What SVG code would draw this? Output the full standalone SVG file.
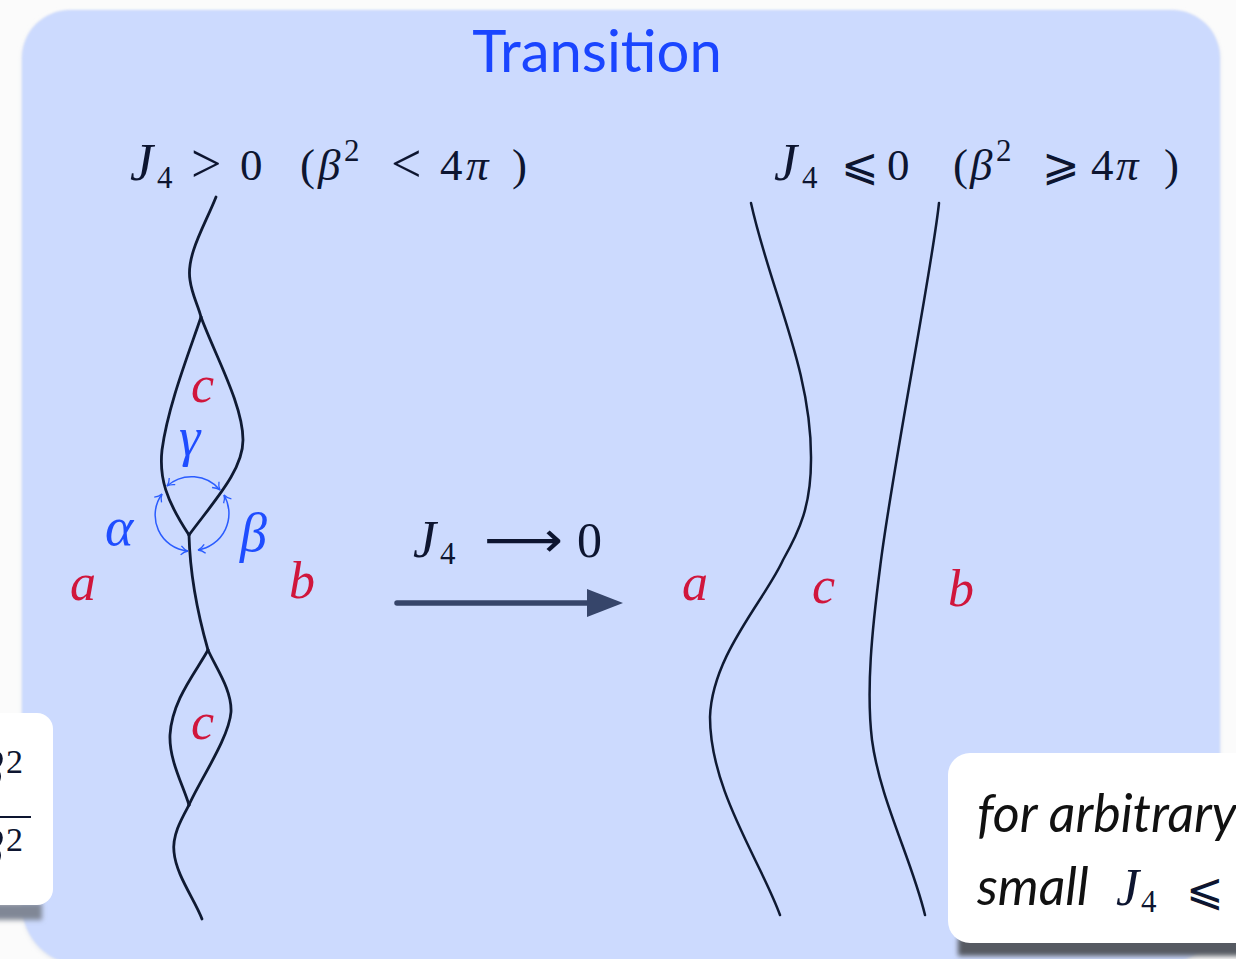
<svg xmlns="http://www.w3.org/2000/svg" width="1236" height="959" viewBox="0 0 1236 959">
<style>
.m{font-family:"Liberation Serif","DejaVu Serif",serif;fill:#0d1530;font-size:45px}
.i{font-style:italic}
.J{font-style:italic;font-size:52px}
.op{font-size:54px}
.sub{font-size:31px}
.sym{font-family:"DejaVu Sans","Liberation Serif",sans-serif}
.red{fill:#d0163c;font-size:52px;font-style:italic;font-family:"Liberation Serif","DejaVu Serif",serif}
.blu{fill:#1f4dff;font-size:54px;font-style:italic;font-family:"Liberation Serif","DejaVu Serif",serif}
.strand{fill:none;stroke:#0f1a33;stroke-width:2.8;stroke-linecap:round;stroke-linejoin:round}
.strand2{fill:none;stroke:#0f1a33;stroke-width:2.5;stroke-linecap:round}
.ang{fill:none;stroke:#2a5cff;stroke-width:1.5}
.note{font-family:"Lato","Open Sans",sans-serif;font-style:italic;font-size:52px;fill:#111}
</style>
<defs>
<filter id="soft" x="-5%" y="-5%" width="110%" height="110%"><feGaussianBlur stdDeviation="1.2"/></filter>
<filter id="sh" x="-20%" y="-100%" width="140%" height="300%"><feGaussianBlur stdDeviation="2.5"/></filter>
<marker id="ah" markerWidth="12" markerHeight="12" refX="9" refY="6" orient="auto-start-reverse" markerUnits="userSpaceOnUse">
<path d="M2,1.5 Q5,5 9,6 Q5,7 2,10.5" fill="none" stroke="#2a5cff" stroke-width="1.3"/>
</marker>
</defs>
<rect x="0" y="0" width="1236" height="959" fill="#fbfbfb"/>
<g id="panel">
<path d="M70,10 H1172 A48,48 0 0 1 1220,58 V905 A60,60 0 0 1 1160,965 H82 A60,60 0 0 1 22,905 V58 A48,48 0 0 1 70,10 Z" fill="#e6e9ef" filter="url(#sh)" transform="translate(0,2)"/>
<path d="M70,10 H1172 A48,48 0 0 1 1220,58 V905 A60,60 0 0 1 1160,965 H82 A60,60 0 0 1 22,905 V58 A48,48 0 0 1 70,10 Z" fill="#ccdafe" filter="url(#soft)"/>
</g>
<g id="title">
<text x="597" y="72" text-anchor="middle" font-family="Lato,'Open Sans',sans-serif" font-size="58" fill="#1a45ff">Transition</text>
</g>
<g id="formula-left">
<text class="m" y="180"><tspan x="130" class="J">J</tspan><tspan x="157" y="188" class="sub">4</tspan><tspan x="191" y="182" class="op">&gt;</tspan><tspan x="240" y="180">0</tspan><tspan x="300">(</tspan><tspan x="318" class="i">β</tspan><tspan x="344" y="161" class="sub">2</tspan><tspan x="391" y="182" class="op">&lt;</tspan><tspan x="440" y="180">4</tspan><tspan x="466" class="i">π</tspan><tspan x="512">)</tspan></text>
</g>
<g id="formula-right">
<text class="m" y="180"><tspan x="774" class="J">J</tspan><tspan x="802" y="188" class="sub">4</tspan><tspan x="841" y="180" class="sym">⩽</tspan><tspan x="887">0</tspan><tspan x="953">(</tspan><tspan x="970" class="i">β</tspan><tspan x="996" y="161" class="sub">2</tspan><tspan x="1042" y="180" class="sym">⩾</tspan><tspan x="1091">4</tspan><tspan x="1116" class="i">π</tspan><tspan x="1164">)</tspan></text>
</g>
<g id="left-diagram">
<path class="strand" d="M216,197 C205,225 186,255 190,280 C192,295 198,305 201,317"/>
<path class="strand" d="M201,317 C190,350 168,405 162,450 C159,478 166,500 189,535"/>
<path class="strand" d="M201,317 C215,355 243,405 243,440 C243,470 215,500 189,535"/>
<path class="strand" d="M189,535 C190,575 198,615 208,650"/>
<path class="strand" d="M208,650 C196,672 172,700 170,735 C169,760 183,785 189,805"/>
<path class="strand" d="M208,650 C216,668 232,690 231,712 C229,738 200,780 189,805"/>
<path class="strand" d="M189,805 C182,818 172,835 174,852 C176,875 195,900 202,919"/>
</g>
<g id="angles">
<path class="ang" d="M167,486 A37,37 0 0 1 220,490" marker-start="url(#ah)" marker-end="url(#ah)"/>
<path class="ang" d="M162,494 A36,36 0 0 0 188,551" marker-start="url(#ah)" marker-end="url(#ah)"/>
<path class="ang" d="M224,495 A37,37 0 0 1 198,550" marker-start="url(#ah)" marker-end="url(#ah)"/>
<text class="blu" x="179" y="455">γ</text>
<text class="blu" x="105" y="545">α</text>
<text class="blu" x="240" y="551">β</text>
</g>
<g id="left-labels">
<text class="red" x="191" y="402">c</text>
<text class="red" x="191" y="739">c</text>
<text class="red" x="70" y="600">a</text>
<text class="red" x="289" y="598">b</text>
</g>
<g id="transition-arrow">
<text class="m" y="557" font-size="50"><tspan x="413" class="J" font-size="56">J</tspan><tspan x="440" y="564" class="sub" font-size="34">4</tspan><tspan x="484" y="557" class="sym" font-size="50" textLength="79" lengthAdjust="spacingAndGlyphs">⟶</tspan><tspan x="577" font-size="50">0</tspan></text>
<line x1="397" y1="603" x2="592" y2="603" stroke="#36456a" stroke-width="5.5" stroke-linecap="round"/>
<polygon points="587,589 623,603 587,617" fill="#36456a"/>
</g>
<g id="right-diagram">
<path class="strand2" d="M751,203 C770,290 812,370 811,460 C811,505 800,530 783,560 C765,600 712,655 710,717 C710,790 760,860 780,915"/>
<path class="strand2" d="M939,203 C932,270 892,470 880,568 C872,630 866,690 872,740 C880,800 912,860 925,915"/>
<text class="red" x="682" y="600">a</text>
<text class="red" x="812" y="603">c</text>
<text class="red" x="948" y="606">b</text>
</g>
<g id="card-left">
<rect x="-12" y="903" width="54" height="17" fill="#808796" filter="url(#sh)"/>
<rect x="-30" y="713" width="83" height="192" rx="16" fill="#ffffff"/>
<text class="m" font-size="50"><tspan x="-22" y="787" class="i" font-size="50">β</tspan><tspan x="6" y="773" font-size="34">2</tspan></text>
<line x1="-5" y1="817" x2="31" y2="817" stroke="#0d1530" stroke-width="2"/>
<text class="m" font-size="50"><tspan x="-22" y="866" class="i" font-size="50">β</tspan><tspan x="6" y="851" font-size="34">2</tspan></text>
</g>
<g id="card-right">
<rect x="958" y="937" width="300" height="19" fill="#575a62" filter="url(#sh)"/>
<rect x="948" y="753" width="330" height="190" rx="22" fill="#ffffff"/>
<text class="note" x="977" y="832">for arbitrary</text>
<text class="note" x="977" y="905">small</text>
<text class="m" y="905"><tspan x="1116" class="J">J</tspan><tspan x="1141" y="912" class="sub">4</tspan><tspan x="1186" y="905" class="sym">⩽</tspan></text>
</g>
</svg>
